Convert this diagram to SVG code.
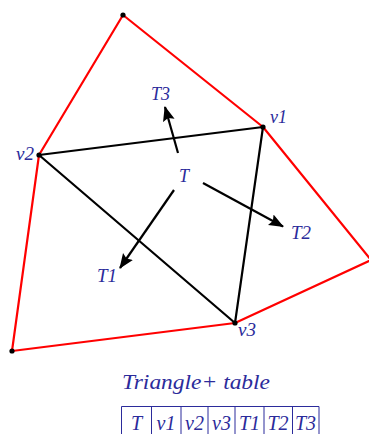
<svg xmlns="http://www.w3.org/2000/svg" width="369" height="434" viewBox="0 0 369 434">
<style>
.lbl{font-family:"Liberation Serif",serif;font-style:italic;font-size:18px;fill:#2b2b9b}
.big{font-size:20px}
.red{fill:none;stroke:#ff0000;stroke-width:2.2;stroke-linejoin:round}
.blk{fill:none;stroke:#000;stroke-width:2.2;stroke-linejoin:round}
.arr{fill:none;stroke:#000;stroke-width:2.2;marker-end:url(#ah)}
.tbl{fill:none;stroke:#2b2b9b;stroke-width:1}
</style>
<defs>
<marker id="ah" viewBox="0 0 15 13" refX="14" refY="6.5" markerWidth="15" markerHeight="13" orient="auto" markerUnits="userSpaceOnUse">
<path d="M0,0.5 L15,6.5 L0,12.5 L2.5,6.5 z" fill="#000"/>
</marker>
</defs>
<g id="connectors">
<polygon class="red" points="123,15 263,127 371,260 235,323 12,351 39,155"/>
<polygon class="blk" points="263,127 39,155 235,323"/>
<line class="arr" x1="178" y1="153" x2="165" y2="107"/>
<line class="arr" x1="203" y1="183" x2="283" y2="226.5"/>
<line class="arr" x1="174" y1="190" x2="120" y2="268"/>
</g>
<g id="points" fill="#000">
<circle cx="123" cy="15" r="2.6"/>
<circle cx="263" cy="127" r="2.6"/>
<circle cx="39" cy="155" r="2.6"/>
<circle cx="235" cy="323" r="2.6"/>
<circle cx="12" cy="351" r="2.6"/>
</g>
<g id="T"><text class="lbl" x="179" y="182">T</text></g>
<g id="T1"><text class="lbl" x="97" y="282" textLength="20" lengthAdjust="spacingAndGlyphs">T1</text></g>
<g id="T2"><text class="lbl" x="291" y="239" textLength="20" lengthAdjust="spacingAndGlyphs">T2</text></g>
<g id="T3"><text class="lbl" x="151" y="100" textLength="19" lengthAdjust="spacingAndGlyphs">T3</text></g>
<g id="v1"><text class="lbl" x="270" y="123" textLength="17" lengthAdjust="spacingAndGlyphs">v1</text></g>
<g id="v2"><text class="lbl" x="16" y="160" textLength="18" lengthAdjust="spacingAndGlyphs">v2</text></g>
<g id="v3"><text class="lbl" x="238" y="336" textLength="18" lengthAdjust="spacingAndGlyphs">v3</text></g>
<g id="table">
<text class="lbl big" x="122" y="389" textLength="148" lengthAdjust="spacingAndGlyphs">Triangle+ table</text>
<path class="tbl" d="M121.5,434 V406.5 H319 V434 M151.5,406.5 V434 M181,406.5 V434 M208,406.5 V434 M235,406.5 V434 M264,406.5 V434 M292.5,406.5 V434"/>
<text class="lbl big" x="136.5" y="430" text-anchor="middle">T</text>
<text class="lbl big" x="166" y="430" text-anchor="middle">v1</text>
<text class="lbl big" x="194.5" y="430" text-anchor="middle">v2</text>
<text class="lbl big" x="221.5" y="430" text-anchor="middle">v3</text>
<text class="lbl big" x="249.5" y="430" text-anchor="middle">T1</text>
<text class="lbl big" x="278" y="430" text-anchor="middle">T2</text>
<text class="lbl big" x="305.5" y="430" text-anchor="middle">T3</text>
</g>
</svg>
